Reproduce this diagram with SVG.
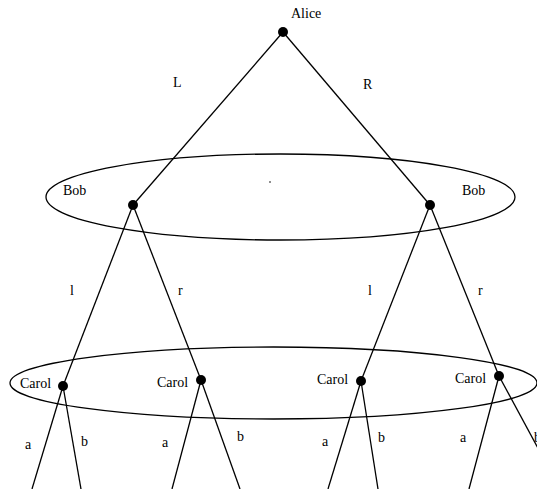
<svg xmlns="http://www.w3.org/2000/svg" width="537" height="489" viewBox="0 0 537 489">
<style>
text{font-family:"Liberation Serif","Times New Roman",serif;font-size:14px;fill:#000}
.e{stroke:#000;stroke-width:1.3;fill:none}
.d{fill:#000}
</style>
<rect width="537" height="489" fill="#fff"/>
<g id="infosets">
<ellipse class="e" cx="280.5" cy="197" rx="234.5" ry="43"/>
<ellipse class="e" cx="273.5" cy="383" rx="263.5" ry="36"/>
<circle cx="270" cy="182" r="0.8" class="d"/>
</g>
<g id="connectors" class="e">
<line x1="283" y1="32" x2="133" y2="205"/>
<line x1="283" y1="32" x2="430" y2="205"/>
<line x1="133" y1="205" x2="63" y2="386"/>
<line x1="133" y1="205" x2="201" y2="380"/>
<line x1="430" y1="205" x2="361" y2="381"/>
<line x1="430" y1="205" x2="499" y2="376"/>
<line x1="63" y1="386" x2="32" y2="489"/>
<line x1="63" y1="386" x2="81" y2="489"/>
<line x1="201" y1="380" x2="172" y2="489"/>
<line x1="201" y1="380" x2="240" y2="489"/>
<line x1="361" y1="381" x2="328" y2="489"/>
<line x1="361" y1="381" x2="378" y2="489"/>
<line x1="499" y1="376" x2="469" y2="489"/>
<line x1="499" y1="376" x2="560" y2="489"/>
</g>
<g id="edge-labels">
<text x="173" y="87">L</text>
<text x="363" y="89">R</text>
<text x="70" y="295">l</text>
<text x="178" y="295">r</text>
<text x="368" y="295">l</text>
<text x="478" y="295">r</text>
<text x="25" y="449">a</text>
<text x="81" y="446">b</text>
<text x="162" y="447">a</text>
<text x="237" y="441">b</text>
<text x="322" y="446">a</text>
<text x="378" y="442">b</text>
<text x="460" y="442">a</text>
<text x="534" y="442">b</text>
</g>
<g id="alice"><circle class="d" cx="283" cy="32" r="5"/><text x="291" y="18">Alice</text></g>
<g id="bob1"><circle class="d" cx="133" cy="205" r="5"/><text x="63" y="195">Bob</text></g>
<g id="bob2"><circle class="d" cx="430" cy="205" r="5"/><text x="462" y="195">Bob</text></g>
<g id="carol1"><circle class="d" cx="63" cy="386" r="5"/><text x="20" y="388">Carol</text></g>
<g id="carol2"><circle class="d" cx="201" cy="380" r="5"/><text x="157" y="387">Carol</text></g>
<g id="carol3"><circle class="d" cx="361" cy="381" r="5"/><text x="317" y="384">Carol</text></g>
<g id="carol4"><circle class="d" cx="499" cy="376" r="5"/><text x="455" y="383">Carol</text></g>
</svg>
